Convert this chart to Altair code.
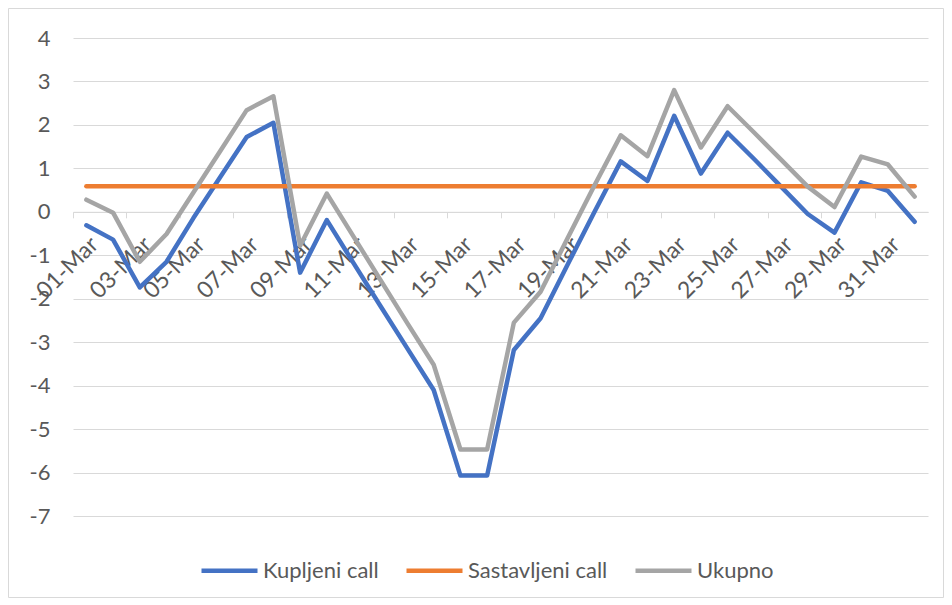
import altair as alt
import pandas as pd

dates = ["01-Mar", "02-Mar", "03-Mar", "04-Mar", "05-Mar", "06-Mar", "07-Mar", "08-Mar",
         "09-Mar", "10-Mar", "11-Mar", "12-Mar", "13-Mar", "14-Mar", "15-Mar", "16-Mar",
         "17-Mar", "18-Mar", "19-Mar", "20-Mar", "21-Mar", "22-Mar", "23-Mar", "24-Mar",
         "25-Mar", "26-Mar", "27-Mar", "28-Mar", "29-Mar", "30-Mar", "31-Mar", "01-Apr"]
label_dates = ["01-Mar", "03-Mar", "05-Mar", "07-Mar", "09-Mar", "11-Mar", "13-Mar", "15-Mar",
               "17-Mar", "19-Mar", "21-Mar", "23-Mar", "25-Mar", "27-Mar", "29-Mar", "31-Mar"]

kupljeni = [-0.31, -0.64, -1.74, -1.15, -0.15, 0.79, 1.72, 2.05, -1.40, -0.19, -1.18, -2.16,
            -3.13, -4.10, -6.07, -6.07, -3.18, -2.45, -1.23, -0.02, 1.16, 0.71, 2.21, 0.88,
            1.82, 1.21, 0.58, -0.05, -0.48, 0.68, 0.48, -0.23]
sastavljeni = [0.59, 0.59, 0.59, 0.59, 0.59, 0.59, 0.59, 0.59, 0.59, 0.59, 0.59, 0.59,
               0.59, 0.59, 0.59, 0.59, 0.59, 0.59, 0.59, 0.59, 0.59, 0.59, 0.59, 0.59,
               0.59, 0.59, 0.59, 0.59, 0.59, 0.59, 0.59, 0.59]
ukupno = [0.28, -0.02, -1.15, -0.51, 0.44, 1.39, 2.34, 2.66, -0.78, 0.42, -0.57, -1.56,
          -2.55, -3.52, -5.47, -5.47, -2.55, -1.84, -0.62, 0.59, 1.76, 1.28, 2.80, 1.48,
          2.43, 1.82, 1.20, 0.58, 0.11, 1.27, 1.09, 0.35]

series_names = ["Kupljeni call", "Sastavljeni call", "Ukupno"]
series_colors = ["#4472C4", "#ED7D31", "#A5A5A5"]
y_ticks = [-7, -6, -5, -4, -3, -2, -1, 0, 1, 2, 3, 4]

rows = []
for name, vals in zip(series_names, [kupljeni, sastavljeni, ukupno]):
    for d, v in zip(dates, vals):
        rows.append({"date": d, "series": name, "value": v})
df = pd.DataFrame(rows)

W, H = 855, 478
FONT = "Lato"
TXT = "#595959"
GRID = "#d9d9d9"
zero_offset = H * 4 / 11 - H  # move x axis to y = 0
half_step = W / len(dates) / 2

xscale = alt.Scale(type="point", padding=0.5)

lines = alt.Chart(df).mark_line(strokeWidth=4.5, strokeCap="round", strokeJoin="round").encode(
    x=alt.X("date:N", sort=dates, scale=xscale, title=None,
            axis=alt.Axis(values=label_dates, orient="bottom", offset=zero_offset,
                          labelAngle=-45, labelAlign="right", labelBaseline="top",
                          labelPadding=21, ticks=False, tickSize=0, grid=False,
                          domain=True, domainColor=GRID, domainWidth=1,
                          labelFont=FONT, labelFontSize=23, labelColor=TXT,
                          labelOverlap=False, labelFlush=False)),
    y=alt.Y("value:Q", scale=alt.Scale(domain=[-7, 4], nice=False, zero=False), title=None,
            axis=alt.Axis(values=y_ticks, domain=False, ticks=False, tickSize=0,
                          grid=True, gridColor=GRID, gridWidth=1,
                          labelPadding=23, labelFont=FONT, labelFontSize=22,
                          labelColor=TXT, labelExpr="'' + datum.value")),
    color=alt.Color("series:N", sort=series_names,
                    scale=alt.Scale(domain=series_names, range=series_colors),
                    legend=alt.Legend(title=None, orient="none", direction="horizontal",
                                      legendX=126, legendY=502,
                                      symbolType="stroke", symbolSize=3136,
                                      symbolStrokeWidth=4.5, labelOffset=3,
                                      columnPadding=18, padding=0,
                                      labelFont=FONT, labelFontSize=22, labelColor=TXT)),
)

ticks = alt.Chart(df).mark_point(opacity=0).encode(
    x=alt.X("date:N", sort=dates, scale=xscale, title=None,
            axis=alt.Axis(values=label_dates, orient="bottom", offset=zero_offset,
                          labels=False, domain=False, grid=False, ticks=True,
                          tickSize=6, tickColor=GRID, tickWidth=1, tickOffset=-half_step)),
    y=alt.Y("value:Q"),
)

frame = alt.Chart(pd.DataFrame({"k": [0]})).mark_rect(
    fillOpacity=0, stroke=GRID, strokeWidth=1
).encode(
    x=alt.value(-64.5), x2=alt.value(870.5), y=alt.value(-29.5), y2=alt.value(559.5)
)

chart = alt.layer(frame, lines, ticks).resolve_axis(x="independent").properties(
    width=W, height=H,
    autosize=alt.AutoSizeParams(type="none"),
    padding={"left": 65, "top": 30, "right": 16, "bottom": 82},
    background="white",
).configure_view(strokeWidth=0)

chart.save("out.html", embed_options={"renderer": "svg", "actions": False})
